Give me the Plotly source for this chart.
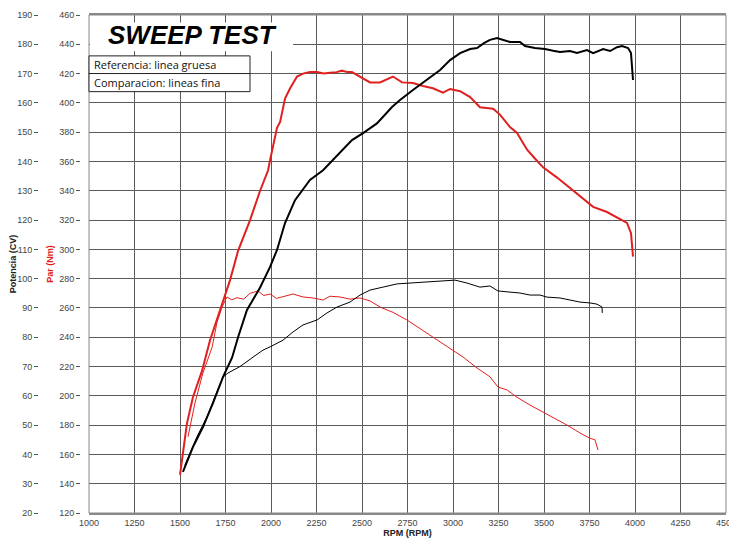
import plotly.graph_objects as go

# ---- data ----
# Reference torque (thick red), Nm
rpm_par_ref = [1500, 1538, 1571, 1621, 1665, 1736, 1775, 1819, 1885, 1940, 1984, 1995, 2033, 2050,
               2077, 2105, 2143, 2176, 2214, 2253, 2290, 2324, 2360, 2390, 2420, 2445, 2489, 2544,
               2599, 2637, 2670, 2720, 2780, 2835, 2890, 2945, 2984, 3039, 3094, 3148, 3220, 3258,
               3313, 3352, 3407, 3450, 3495, 3572, 3643, 3698, 3770, 3846, 3901, 3956, 3978, 3989]
par_ref = [146, 181, 199, 217, 238, 265, 279, 299, 320, 340, 354, 361, 383, 387,
           403, 410, 418, 420, 421, 421, 420, 420.5, 421, 422, 421, 421, 418, 414,
           414, 416, 418, 414, 413.5, 411.5, 410, 407, 409.5, 408, 404, 397, 396, 392,
           383.5, 379.5, 368, 362, 356, 349, 342, 336, 329, 325.5, 322, 318, 311, 295]

# Comparison torque (thin red), Nm
rpm_par_cmp = [1544, 1582, 1626, 1676, 1703, 1731, 1758, 1785, 1813, 1850, 1885, 1929, 1960, 1995,
               2030, 2066, 2121, 2176, 2231, 2286, 2324, 2379, 2434, 2489, 2544, 2599, 2670, 2747,
               2819, 2890, 2945, 3000, 3055, 3132, 3203, 3247, 3297, 3352, 3423, 3495, 3550, 3627,
               3698, 3753, 3780, 3797]
par_cmp = [172, 195, 215.6, 233, 250, 260.6, 267.5, 265.5, 267, 266, 270, 271.6, 268.5, 269.5,
           266.5, 267.5, 269.5, 267.5, 266.8, 265.4, 268, 267.5, 266, 266.8, 264.8, 260.6, 257, 251.8,
           246, 240, 236, 231, 226.5, 219, 213, 206, 204, 199, 193.7, 189, 185.5, 180,
           174.6, 171, 170, 163]

# Reference power (thick black), CV
rpm_pot_ref = [1516, 1571, 1626, 1681, 1736, 1786, 1819, 1868, 1940, 1995, 2033, 2077, 2132, 2214,
               2286, 2379, 2445, 2506, 2582, 2665, 2709, 2780, 2857, 2929, 2984, 3039, 3094, 3132,
               3170, 3203, 3242, 3269, 3313, 3368, 3396, 3450, 3505, 3550, 3588, 3643, 3681, 3736,
               3770, 3825, 3863, 3901, 3929, 3962, 3978, 3989]
pot_ref = [34, 42.5, 49.3, 57.5, 66.4, 73, 80, 89.3, 97, 104, 109.8, 119, 126.8, 133.7,
           137, 142.9, 147.3, 149.7, 153, 158.6, 161, 164.4, 167.8, 171.2, 174.6, 177, 178.4, 178.7,
           180.4, 181.5, 182.1, 181.6, 180.8, 180.8, 179.4, 178.7, 178.4, 177.8, 177.4, 177.7, 177, 178,
           177, 178.4, 177.7, 179, 179.4, 178.7, 177, 167.8]

# Comparison power (thin black), CV
rpm_pot_cmp = [1527, 1593, 1648, 1703, 1736, 1764, 1830, 1901, 1956, 1995, 2066, 2121, 2176, 2253,
               2308, 2363, 2434, 2489, 2544, 2615, 2692, 2764, 2857, 2945, 3011, 3077, 3148, 3203,
               3247, 3313, 3368, 3423, 3478, 3516, 3588, 3643, 3698, 3753, 3791, 3819, 3820]
pot_cmp = [36.4, 46, 52.8, 61, 66.4, 67.8, 70, 73.2, 75.6, 76.7, 79, 81.8, 84.2, 85.9,
           88.3, 90.3, 92, 94.4, 96.1, 97.1, 98.2, 98.5, 98.8, 99.2, 99.5, 98.5, 97.1, 97.5,
           95.8, 95.4, 95.1, 94.4, 94.4, 93.7, 93.4, 92.7, 92, 91.7, 91.3, 90.3, 88.3]

rpm_ticks = [1000, 1250, 1500, 1750, 2000, 2250, 2500, 2750, 3000, 3250, 3500, 3750, 4000, 4250, 4500]
title_text = "SWEEP TEST"
legend_lines = ["Referencia: linea gruesa", "Comparacion: lineas fina"]

# The page body has an 8px margin, so the figure is drawn 8px in from the window corner.
OFF = 8
W, H = 737, 552 - 2 * OFF
X0, X1 = 89 - OFF, 726 - OFF     # plot area in figure px
Y0, Y1 = 15 - OFF, 513 - OFF

RED = "#e0201e"
BLACK = "#000000"
GRID = "#5a5a5a"
TICKFONT = dict(family="Liberation Sans, Arial, sans-serif", size=9, color="#444444")

fig = go.Figure()
fig.add_trace(go.Scatter(x=rpm_par_cmp, y=par_cmp, mode="lines", yaxis="y",
                         line=dict(color=RED, width=1), showlegend=False))
fig.add_trace(go.Scatter(x=rpm_pot_cmp, y=pot_cmp, mode="lines", yaxis="y2",
                         line=dict(color=BLACK, width=1), showlegend=False))
fig.add_trace(go.Scatter(x=rpm_par_ref, y=par_ref, mode="lines", yaxis="y",
                         line=dict(color=RED, width=2), showlegend=False))
fig.add_trace(go.Scatter(x=rpm_pot_ref, y=pot_ref, mode="lines", yaxis="y2",
                         line=dict(color=BLACK, width=2), showlegend=False))

fig.update_layout(
    width=W, height=H,
    margin=dict(l=0, r=0, t=Y0, b=H - Y1, autoexpand=False),
    paper_bgcolor="white", plot_bgcolor="white",
    showlegend=False,
    xaxis=dict(domain=[X0 / W, X1 / W], range=[1000, 4500], tickvals=rpm_ticks,
               showgrid=True, gridcolor=GRID, gridwidth=1,
               showline=True, linecolor="#888888", linewidth=1.5, mirror=True,
               ticks="", tickfont=TICKFONT, zeroline=False, automargin=False,
               ticklabeloverflow="allow",
               title=dict(text="<b>RPM (RPM)</b>", font=dict(family="Liberation Sans, Arial", size=9, color="#222"),
                          standoff=2)),
    yaxis=dict(anchor="free", position=(80 - OFF) / W, side="left",
               range=[120, 460], dtick=20, showgrid=True, gridcolor=GRID, gridwidth=1,
               zeroline=False, showline=False, automargin=False,
               ticks="outside", ticklen=4, tickcolor="#555", tickfont=TICKFONT,
               title=dict(text="<b>Par (Nm)</b>", font=dict(family="Liberation Sans, Arial", size=9, color="#e02020"),
                          standoff=3)),
    yaxis2=dict(overlaying="y", anchor="free", position=(38 - OFF) / W, side="left",
                range=[20, 190], dtick=10, showgrid=False, zeroline=False, showline=False,
                automargin=False,
                ticks="outside", ticklen=4, tickcolor="#555", tickfont=TICKFONT,
                title=dict(text="<b>Potencia (CV)</b>", font=dict(family="Liberation Sans, Arial", size=9, color="#222"),
                           standoff=3)),
)

def px_x(p):
    return (p - OFF) / W

def px_y(p):
    return 1 - (p - OFF) / H

# plot frame
fig.add_shape(type="rect", xref="x domain", yref="y domain", x0=0, x1=1, y0=0, y1=1,
              line=dict(color="#888888", width=1), layer="above")

# white area behind the title
fig.add_shape(type="rect", xref="paper", yref="paper",
              x0=px_x(90), x1=px_x(293), y0=px_y(47), y1=px_y(16),
              fillcolor="white", line=dict(width=0), layer="above")
fig.add_annotation(text="<b><i>" + title_text + "</i></b>", xref="paper", yref="paper",
                   x=px_x(192), y=px_y(30), xanchor="center", yanchor="middle", showarrow=False,
                   font=dict(family="Liberation Sans, Arial", size=26, color="black"))

# legend-like boxes
box_tops = [52, 71]
box_h = 19.5
for txt, top in zip(legend_lines, box_tops):
    fig.add_shape(type="rect", xref="paper", yref="paper",
                  x0=px_x(89), x1=px_x(250), y0=px_y(top + box_h), y1=px_y(top),
                  fillcolor="white", line=dict(color="#222", width=1), layer="above")
    fig.add_annotation(text=txt, xref="paper", yref="paper",
                       x=px_x(92), y=px_y(top + box_h / 2), xanchor="left", yanchor="middle",
                       showarrow=False,
                       font=dict(family="Open Sans, sans-serif", size=11, color="#111"))

fig.write_html("out.html")
